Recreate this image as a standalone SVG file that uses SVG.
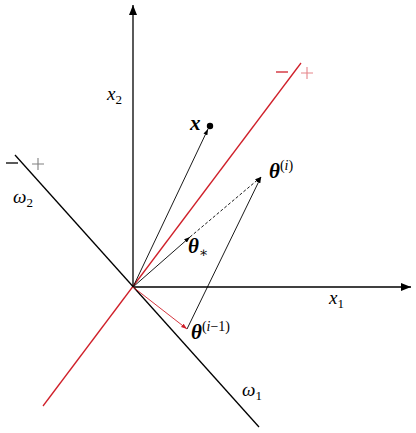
<svg xmlns="http://www.w3.org/2000/svg" width="416" height="433" viewBox="0 0 416 433">
<defs>
<marker id="ax" viewBox="0 0 10 8" refX="10" refY="4" markerWidth="10" markerHeight="8" markerUnits="userSpaceOnUse" orient="auto"><path d="M0,0 L10,4 L0,8 Z" fill="#000"/></marker>
<marker id="ah" viewBox="0 0 7 5" refX="7" refY="2.5" markerWidth="6" markerHeight="4.5" markerUnits="userSpaceOnUse" orient="auto"><path d="M0,0 L7,2.5 L0,5 Z" fill="#000"/></marker>
<marker id="ahr" viewBox="0 0 7 5" refX="7" refY="2.5" markerWidth="6" markerHeight="4.5" markerUnits="userSpaceOnUse" orient="auto"><path d="M0,0 L7,2.5 L0,5 Z" fill="#d0202a"/></marker>
</defs>
<style>
.t{font-family:"Liberation Serif","DejaVu Serif",serif;font-style:italic;font-size:19px;fill:#000}
.b{font-family:"Liberation Serif","DejaVu Serif",serif;font-style:italic;font-weight:bold;font-size:21px;fill:#000}
.s{font-size:14px;font-weight:normal}
.n{font-size:13px;font-style:normal;font-weight:normal}
.ax{stroke:#000;stroke-width:1.3;fill:none}
.v{stroke:#000;stroke-width:0.9;fill:none}
</style>
<g id="axes">
<line class="ax" x1="133" y1="287" x2="133" y2="5" marker-end="url(#ax)"/>
<line class="ax" x1="133" y1="287" x2="411" y2="287" marker-end="url(#ax)"/>
</g>
<g id="boundary-red">
<line x1="43" y1="406" x2="301" y2="63" stroke="#d0202a" stroke-width="1.3"/>
<line x1="276" y1="72" x2="288" y2="72" stroke="#d0202a" stroke-width="1.3"/>
<path d="M301,73 h12 M307,67 v12" stroke="#d0202a" stroke-opacity="0.55" stroke-width="1.1"/>
</g>
<g id="boundary-black">
<line x1="15" y1="155" x2="259" y2="427" stroke="#000" stroke-width="1.3"/>
<line x1="6" y1="163" x2="18" y2="163" stroke="#000" stroke-width="1.3"/>
<path d="M32,164 h12 M38,158 v12" stroke="#000" stroke-opacity="0.5" stroke-width="1.1"/>
</g>
<g id="connectors">
<line class="v" x1="133" y1="287" x2="208" y2="129" marker-end="url(#ah)"/>
<line class="v" x1="133" y1="287" x2="190" y2="237" marker-end="url(#ah)"/>
<line class="v" x1="190" y1="237" x2="261" y2="177" stroke-dasharray="3,2" marker-end="url(#ah)"/>
<line class="v" x1="187" y1="329" x2="261" y2="177" marker-end="url(#ah)"/>
<line x1="133" y1="287" x2="187" y2="329" stroke="#d0202a" stroke-width="0.9" marker-end="url(#ahr)"/>
</g>
<g id="node-x">
<circle cx="210" cy="126" r="3.2" fill="#000"/>
<text class="b" x="190" y="130">x</text>
</g>
<g id="node-theta-i">
<text class="b" x="269" y="178">θ<tspan class="s" dy="-8"><tspan font-style="normal">(</tspan>i<tspan font-style="normal">)</tspan></tspan></text>
</g>
<g id="node-theta-star">
<text class="b" x="188" y="253">θ<tspan class="s" font-style="normal" dy="4">∗</tspan></text>
</g>
<g id="node-theta-im1">
<text class="b" x="191" y="339">θ<tspan class="s" dy="-8"><tspan font-style="normal">(</tspan>i<tspan font-style="normal">−1)</tspan></tspan></text>
</g>
<g id="labels">
<text class="t" x="107" y="100">x<tspan class="n" dy="4">2</tspan></text>
<text class="t" x="329" y="304">x<tspan class="n" dy="4">1</tspan></text>
<text class="t" x="242" y="396">ω<tspan class="n" dy="4">1</tspan></text>
<text class="t" x="13" y="203">ω<tspan class="n" dy="4">2</tspan></text>
</g>
</svg>
